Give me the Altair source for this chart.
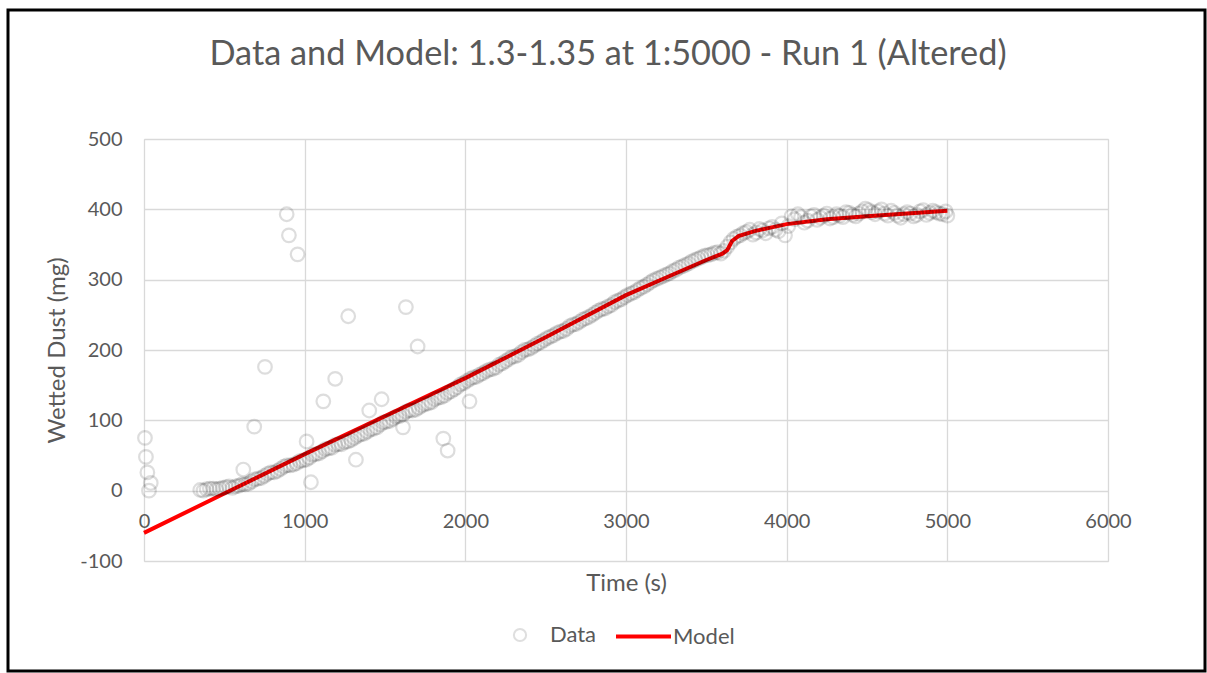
import altair as alt
import pandas as pd

# ---- data ----
time_s = [350, 390, 430, 470, 510, 550, 590, 630, 670, 710, 750, 790, 830, 870, 910, 950, 990,
          1030, 1070, 1110, 1150, 1190, 1230, 1270, 1310, 1350, 1390, 1430, 1470, 1510, 1550, 1590,
          1630, 1670, 1710, 1750, 1790, 1830, 1870, 1910, 1950, 1990, 2030, 2070, 2110, 2150, 2190,
          2230, 2270, 2310, 2350, 2390, 2430, 2470, 2510, 2550, 2590, 2630, 2670, 2710, 2750, 2790,
          2830, 2870, 2910, 2950, 2990, 3030, 3070, 3110, 3150, 3190, 3230, 3270, 3310, 3350, 3390,
          3430, 3470, 3510, 3550, 3590, 3630, 3670, 3710, 3750, 3790, 3830, 3870, 3910, 3950, 3990,
          4030, 4070, 4110, 4150, 4190, 4230, 4270, 4310, 4350, 4390, 4430, 4470, 4510, 4550, 4590,
          4630, 4670, 4710, 4750, 4790, 4830, 4870, 4910, 4950, 4990, 5000]
dust_mg = [1, 2, 3, 3, 5, 4, 7, 9, 13, 17, 21, 26, 28, 34, 36, 39, 43,
           47, 52, 56, 60, 65, 66, 70, 75, 80, 84, 88, 94, 98, 102, 106,
           112, 114, 118, 123, 126, 132, 135, 141, 147, 153, 159, 162, 167, 172, 175,
           181, 187, 191, 197, 201, 206, 211, 217, 221, 226, 230, 236, 240, 245, 250,
           256, 259, 264, 270, 275, 280, 285, 290, 296, 301, 305, 309, 314, 319, 323,
           328, 332, 335, 338, 337, 347, 358, 363, 368, 364, 372, 366, 375, 369, 363,
           390, 393, 381, 390, 385, 391, 387, 393, 389, 395, 390, 397, 399, 393, 400,
           391, 395, 388, 396, 390, 397, 392, 398, 394, 397, 391]

# interleaved readings between the ones above
time_s2 = [370, 410, 450, 490, 530, 570, 610, 650, 690, 730,
           770, 810, 850, 890, 930, 970, 1010, 1050, 1090, 1130,
           1170, 1210, 1250, 1290, 1330, 1370, 1410, 1450, 1490, 1530,
           1570, 1610, 1650, 1690, 1730, 1770, 1810, 1850, 1890, 1930,
           1970, 2010, 2050, 2090, 2130, 2170, 2210, 2250, 2290, 2330,
           2370, 2410, 2450, 2490, 2530, 2570, 2610, 2650, 2690, 2730,
           2770, 2810, 2850, 2890, 2930, 2970, 3010, 3050, 3090, 3130,
           3170, 3210, 3250, 3290, 3330, 3370, 3410, 3450, 3490, 3530,
           3570, 3610, 3650, 3690, 3730, 3770, 3810, 3850, 3890, 3930,
           3970, 4010, 4050, 4090, 4130, 4170, 4210, 4250, 4290, 4330,
           4370, 4410, 4450, 4490, 4530, 4570, 4610, 4650, 4690, 4730,
           4770, 4810, 4850, 4890, 4930, 4970]
dust_mg2 = [0, 3, 2, 4, 6, 6, 9, 10, 16, 18,
            24, 26, 31, 36, 37, 42, 44, 51, 53, 59,
            61, 66, 69, 72, 78, 81, 87, 90, 97, 99,
            105, 108, 114, 115, 121, 124, 130, 133, 139, 144,
            151, 156, 161, 165, 170, 173, 179, 184, 190, 193,
            200, 203, 209, 214, 219, 224, 227, 234, 237, 243,
            247, 253, 258, 262, 268, 272, 278, 282, 288, 293,
            299, 303, 307, 312, 317, 321, 326, 330, 334, 336,
            339, 341, 353, 361, 366, 371, 367, 370, 373, 371,
            380, 376, 386, 389, 384, 392, 388, 394, 389, 391,
            396, 392, 394, 401, 396, 397, 394, 398, 391, 393,
            394, 392, 399, 395, 396, 393]

# scattered outliers
out_t = [6, 12, 21, 31, 42, 618, 686, 753, 888, 902, 956, 1012, 1039, 1116, 1190, 1271,
         1319, 1402, 1479, 1612, 1630, 1703, 1863, 1890, 2026]
out_v = [75, 48, 26, 0, 11, 30, 91, 176, 393, 363, 336, 70, 12, 127, 159, 248,
         44, 114, 130, 90, 261, 205, 74, 57, 127]

model_t = [0, 500, 1000, 1500, 2000, 2500, 3000, 3300, 3500, 3600, 3630, 3660, 3700, 3800,
           3900, 4000, 4250, 4500, 4750, 5000]
model_v = [-60, -4, 52, 106, 160, 218, 278, 308, 328, 337, 342, 355, 362, 369,
           374, 379, 386, 390, 394, 398]

x_ticks = [0, 1000, 2000, 3000, 4000, 5000, 6000]
y_ticks = [-100, 0, 100, 200, 300, 400, 500]

data_df = pd.DataFrame({"t": time_s + time_s2 + out_t, "v": dust_mg + dust_mg2 + out_v})
data_df["series"] = "Data"
model_df = pd.DataFrame({"t": model_t, "v": model_v})
model_df["series"] = "Model"

W, H = 964, 422
FONT = "Lato"
TXT = "#595959"
GRID = "#d9d9d9"

xs = alt.Scale(domain=[0, 6000], nice=False, zero=False)
ys = alt.Scale(domain=[-100, 500], nice=False, zero=False)

# frame around the whole chart
frame = alt.Chart(pd.DataFrame({"a": [0]})).mark_rect(
    fillOpacity=0, stroke="black", strokeWidth=3
).encode(
    x=alt.value(-136), x2=alt.value(1061), y=alt.value(-129), y2=alt.value(532)
)

line = alt.Chart(model_df).mark_line(strokeWidth=4, color="#ff0000").encode(
    x=alt.X("t:Q", scale=xs,
            axis=alt.Axis(values=x_ticks, grid=True, labels=False, ticks=False,
                          domain=False, title=None, gridColor=GRID, gridWidth=1.3,
                          orient="bottom")),
    y=alt.Y("v:Q", scale=ys,
            axis=alt.Axis(values=y_ticks, grid=True, ticks=False, domain=False,
                          gridColor=GRID, gridWidth=1.3,
                          labelFont=FONT, labelFontSize=20, labelColor=TXT,
                          labelPadding=22, labelExpr="datum.value + ''",
                          labelFlush=False,
                          title="Wetted Dust (mg)", titleFont=FONT, titleFontSize=24,
                          titleFontWeight="normal", titleColor=TXT,
                          titleX=-87, titleY=211, titleAngle=270,
                          titleAlign="center", titleBaseline="middle")),
    stroke=alt.Stroke("series:N",
                      scale=alt.Scale(domain=["Model"], range=["#ff0000"]),
                      legend=alt.Legend(orient="none", legendX=470, legendY=468,
                                        title=None, symbolType="stroke",
                                        symbolSize=3025, symbolStrokeWidth=4,
                                        labelFont=FONT, labelFontSize=22,
                                        labelColor=TXT, labelOffset=0)),
)

points = alt.Chart(data_df).mark_point(
    filled=False, size=185, strokeWidth=2.2, strokeOpacity=0.19
).encode(
    x=alt.X("t:Q", scale=xs,
            axis=alt.Axis(values=x_ticks, grid=False, ticks=False, domain=False,
                          orient="bottom", offset=-70, labelFlush=False,
                          labelFont=FONT, labelFontSize=20, labelExpr="datum.value + ''",
                          labelColor=TXT, labelPadding=20,
                          title="Time (s)", titleFont=FONT, titleFontSize=24,
                          titleFontWeight="normal", titleColor=TXT,
                          titleX=482, titleY=92, titleBaseline="middle")),
    y=alt.Y("v:Q", scale=ys),
    color=alt.Color("series:N",
                    scale=alt.Scale(domain=["Data"], range=["#000000"]),
                    legend=alt.Legend(orient="none", legendX=365, legendY=485,
                                      title=None, symbolType="circle",
                                      symbolSize=150, symbolStrokeWidth=2,
                                      symbolOpacity=0.12,
                                      labelFont=FONT, labelFontSize=22,
                                      labelColor=TXT, labelOffset=19)),
)

chart = alt.layer(frame, line, points).resolve_axis(x="independent").properties(
    width=W, height=H,
    autosize=alt.AutoSizeParams(type="none"),
    padding={"left": 144, "top": 139, "right": 99, "bottom": 112},
    title=alt.TitleParams(
        "Data and Model: 1.3-1.35 at 1:5000 - Run 1 (Altered)",
        font=FONT, fontSize=34.3, fontWeight="normal", color=TXT,
        anchor="middle", offset=-91, dx=-18, baseline="alphabetic"),
).configure_view(stroke=None).configure(background="white")

chart.save("out.html", embed_options={"renderer": "svg", "actions": False})
